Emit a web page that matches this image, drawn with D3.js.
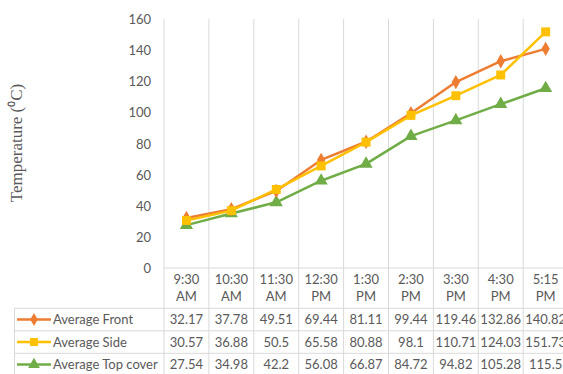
<!DOCTYPE html>
<html><head><meta charset="utf-8">
<script src="https://cdn.jsdelivr.net/npm/d3@7/dist/d3.min.js"></script>
<style>body{margin:0;background:#fff}svg{display:block}</style>
</head><body>
<script>
const categories = [["9:30","AM"],["10:30","AM"],["11:30","AM"],["12:30","PM"],["1:30","PM"],["2:30","PM"],["3:30","PM"],["4:30","PM"],["5:15","PM"]];
const seriesNames = ["Average Front","Average Side","Average Top cover"];
const avgFront = [32.17,37.78,49.51,69.44,81.11,99.44,119.46,132.86,140.82];
const avgSide = [30.57,36.88,50.5,65.58,80.88,98.1,110.71,124.03,151.73];
const avgTop = [27.54,34.98,42.2,56.08,66.87,84.72,94.82,105.28,115.5];
const yTicks = [0,20,40,60,80,100,120,140,160];
const colors = ["#ED7D31","#FFC000","#70AD47"];
const markers = [d3.symbolDiamond, d3.symbolSquare, d3.symbolTriangle];
const markerSizes = [60, 80, 75];

const W = 563, H = 374;
const svg = d3.select("body").append("svg").attr("width", W).attr("height", H);
const font = "Lato, 'Open Sans', sans-serif";
const grid = "#d9d9d9";

const x0 = 164, step = 44.9;
const x = d3.scaleBand().domain(d3.range(categories.length)).range([x0, x0 + step*categories.length]).padding(0);
const y = d3.scaleLinear().domain([0,160]).range([268, 19]);

// vertical gridlines (category boundaries) in plot + table
const bounds = d3.range(categories.length + 1).map(i => x0 + i*step);
svg.append("g").selectAll("line").data(bounds).join("line")
  .attr("x1", d=>d).attr("x2", d=>d).attr("y1", 19).attr("y2", H+2)
  .attr("stroke", grid).attr("stroke-width", 1);
// horizontal axis line
svg.append("line").attr("x1", x0).attr("x2", W+5).attr("y1", 268).attr("y2", 268).attr("stroke", grid);
// table row lines
const rowLines = [308.3, 330.8, 353.3];
svg.append("g").selectAll("line").data(rowLines).join("line")
  .attr("x1", 14).attr("x2", W+5).attr("y1", d=>d).attr("y2", d=>d).attr("stroke", grid);
svg.append("line").attr("x1", 14.5).attr("x2", 14.5).attr("y1", 308.3).attr("y2", H+2).attr("stroke", grid);

// y axis labels
const yAxis = d3.axisLeft(y).tickValues(yTicks).tickSize(0).tickPadding(0);
const ga = svg.append("g").attr("transform", "translate(151,0)").call(yAxis);
ga.select(".domain").remove();
ga.selectAll("text").attr("font-family", font).attr("font-size", 13).attr("fill", "#595959").attr("dy", "0.35em");

// y title
svg.append("text").attr("transform", "translate(22,143) rotate(-90)")
  .attr("text-anchor", "middle").attr("font-family", "'Liberation Serif', 'Times New Roman', serif")
  .attr("font-size", 17).attr("fill", "#595959").text("Temperature (⁰C)");

// lines
const data = [avgFront, avgSide, avgTop];
const cx = i => x(i) + x.bandwidth()/2;
const line = d3.line().x((d,i)=>cx(i)).y(d=>y(d));
const order = [2,0,1];
order.forEach(s => {
  const g = svg.append("g");
  g.append("path").attr("d", line(data[s])).attr("fill","none").attr("stroke", colors[s]).attr("stroke-width", 2.5).attr("stroke-linejoin","round");
  g.selectAll("path.m").data(data[s]).join("path").attr("class","m")
    .attr("transform", (d,i)=>`translate(${cx(i)},${y(d)})`)
    .attr("d", d3.symbol().type(markers[s]).size(markerSizes[s])).attr("fill", colors[s]);
});

// table header (categories)
const hdr = svg.append("g");
categories.forEach((c,i) => {
  const t = hdr.append("text").attr("x", cx(i)).attr("text-anchor","middle")
    .attr("font-family", font).attr("font-size", 13).attr("fill", "#595959");
  t.append("tspan").attr("x", cx(i)).attr("y", 284).text(c[0]);
  t.append("tspan").attr("x", cx(i)).attr("y", 301).text(c[1]);
});

// table rows
const rowY = [319.5, 342, 364.5];
data.forEach((vals, s) => {
  const yy = rowY[s];
  svg.append("line").attr("x1", 17).attr("x2", 51).attr("y1", yy).attr("y2", yy).attr("stroke", colors[s]).attr("stroke-width", 2.5);
  svg.append("path").attr("transform", `translate(34,${yy})`).attr("d", d3.symbol().type(markers[s]).size(markerSizes[s]*0.8)).attr("fill", colors[s]);
  svg.append("text").attr("x", 53).attr("y", yy).attr("dy","0.35em").attr("font-family", font).attr("font-size", 13).attr("fill","#595959").text(seriesNames[s]);
  svg.append("g").selectAll("text").data(vals).join("text")
    .attr("x", (d,i)=>cx(i)).attr("y", yy).attr("dy","0.35em").attr("text-anchor","middle")
    .attr("font-family", font).attr("font-size", 13).attr("fill","#595959").text(d=>d);
});
</script>
</body></html>
